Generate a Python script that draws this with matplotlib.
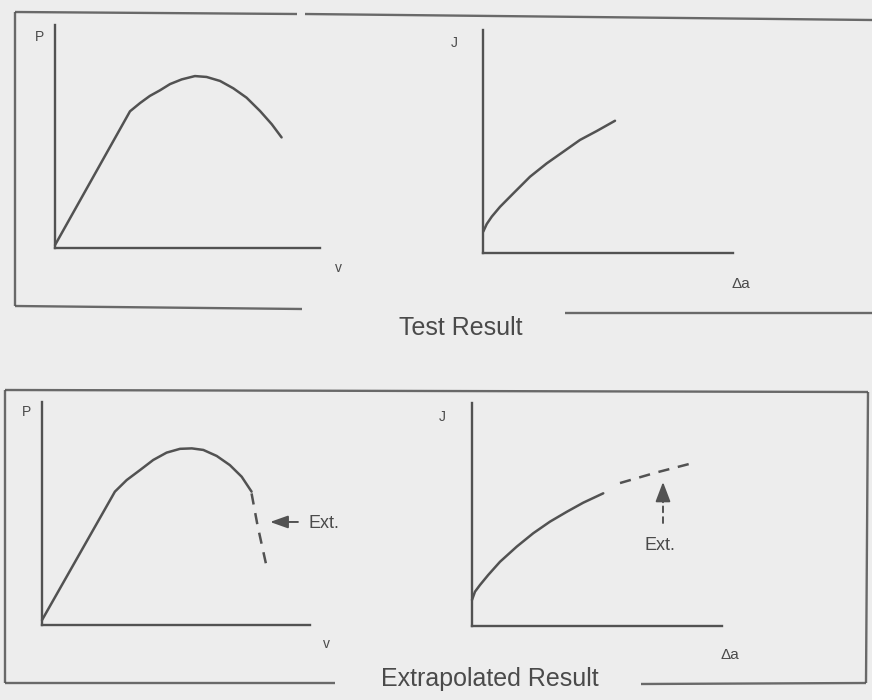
import matplotlib
matplotlib.use("Agg")
import matplotlib.pyplot as plt
from matplotlib.lines import Line2D

plt.rcParams["font.family"] = ["Liberation Sans", "DejaVu Sans"]

# ---- curve data (arbitrary units, axes span 0..10 on both scales) ----
# Test result: load vs displacement
pv_test_v = [0.0, 2.83, 3.21, 3.58, 3.96, 4.34, 4.78, 5.28, 5.72, 6.23, 6.73, 7.23, 7.74, 8.18, 8.55]
pv_test_p = [0.13, 6.13, 6.50, 6.82, 7.07, 7.35, 7.56, 7.71, 7.67, 7.49, 7.16, 6.74, 6.14, 5.55, 4.96]

# Test result: J vs crack growth
ja_test_da = [0.01, 0.15, 0.35, 0.68, 1.21, 1.88, 2.55, 3.21, 3.88, 4.55, 5.28]
ja_test_j = [0.96, 1.30, 1.63, 2.07, 2.67, 3.42, 4.02, 4.54, 5.07, 5.47, 5.93]

# Extrapolated result: load vs displacement (measured part + extension)
pv_ext_v = [0.0, 2.72, 3.16, 3.66, 4.15, 4.65, 5.15, 5.59, 6.02, 6.52, 7.01, 7.45, 7.82]
pv_ext_p = [0.22, 5.98, 6.50, 6.95, 7.40, 7.73, 7.90, 7.92, 7.85, 7.58, 7.17, 6.65, 5.98]
pv_extension_v = [7.82, 8.04, 8.38]
pv_extension_p = [5.90, 4.48, 2.62]

# Extrapolated result: J vs crack growth (measured part + extension)
ja_ext_da = [0.0, 0.12, 0.32, 0.65, 1.12, 1.79, 2.45, 3.12, 3.79, 4.45, 5.25]
ja_ext_j = [1.17, 1.54, 1.84, 2.29, 2.88, 3.56, 4.16, 4.68, 5.12, 5.53, 5.95]
ja_extension_da = [5.92, 7.36, 8.84]
ja_extension_j = [6.41, 6.88, 7.31]

panel_titles = ["Test Result", "Extrapolated Result"]
ext_label = "Ext."

# ---- styling ----
BG = "#ededed"
INK = "#525252"
W, H = 872, 700

fig = plt.figure(figsize=(W / 100, H / 100), dpi=100, facecolor=BG)

# full-figure canvas in pixel units for frames and captions
canvas = fig.add_axes([0, 0, 1, 1], zorder=0)
canvas.set_xlim(0, W)
canvas.set_ylim(H, 0)
canvas.axis("off")
canvas.set_facecolor(BG)


def seg(x0, y0, x1, y1, lw=1.7):
    canvas.add_line(Line2D([x0, x1], [y0, y1], color=INK, lw=lw,
                           solid_capstyle="butt", alpha=0.85))


# upper frame (open on the right, broken at the bottom for the caption)
seg(15, 12, 15, 306)
seg(15, 12, 297, 14)
seg(305, 14, 872, 20)
seg(15, 306, 302, 309)
seg(565, 313, 872, 313)

# lower frame
seg(5, 390, 868, 392)
seg(5, 390, 5, 683)
seg(868, 392, 866, 683)
seg(5, 683, 335, 683)
seg(641, 684, 866, 683)

canvas.text(461, 328, panel_titles[0], ha="center", va="center",
            fontsize=18, color="#4a4a4a")
canvas.text(490, 679, panel_titles[1], ha="center", va="center",
            fontsize=18, color="#4a4a4a")


def make_axes(ox, oy, xend, ytop):
    ax = fig.add_axes([ox / W, 1 - oy / H, (xend - ox) / W, (oy - ytop) / H], zorder=2)
    ax.set_xlim(0, 10)
    ax.set_ylim(0, 10)
    ax.patch.set_visible(False)
    for s in ("top", "right"):
        ax.spines[s].set_visible(False)
    for s in ("left", "bottom"):
        ax.spines[s].set_color(INK)
        ax.spines[s].set_linewidth(1.7)
    ax.set_xticks([])
    ax.set_yticks([])
    return ax


def label(ax, x, y, s, size=10):
    ax.text(x, y, s, ha="center", va="center", fontsize=size,
            color="#4a4a4a", clip_on=False)


curve_kw = dict(color=INK, lw=1.8, solid_capstyle="round", clip_on=False)
dash_kw = dict(color=INK, lw=1.8, linestyle=(0, (4.5, 3.5)), clip_on=False)

# --- Test result: P-v ---
ax1 = make_axes(55, 248, 320, 25)
ax1.plot(pv_test_v, pv_test_p, **curve_kw)
label(ax1, -0.57, 9.46, "P")
label(ax1, 10.68, -0.9, "v")

# --- Test result: J-Δa ---
ax2 = make_axes(483, 253, 733, 30)
ax2.plot(ja_test_da, ja_test_j, **curve_kw)
label(ax2, -1.16, 9.4, "J")
label(ax2, 10.3, -1.4, "Δa", size=11)

# --- Extrapolated result: P-v ---
ax3 = make_axes(42, 625, 310, 402)
ax3.plot(pv_ext_v, pv_ext_p, **curve_kw)
ax3.plot(pv_extension_v, pv_extension_p, **dash_kw)
ax3.annotate("", xy=(8.51, 4.62), xytext=(9.55, 4.62),
             arrowprops=dict(arrowstyle="-|>,head_length=0.9,head_width=0.32",
                             mutation_scale=12, color=INK, lw=1.4,
                             shrinkA=0, shrinkB=0))
ax3.text(9.93, 4.57, ext_label, ha="left", va="center", fontsize=13,
         color="#4a4a4a", clip_on=False)
label(ax3, -0.56, 9.55, "P")
label(ax3, 10.63, -0.85, "v")

# --- Extrapolated result: J-Δa ---
ax4 = make_axes(472, 626, 722, 403)
ax4.plot(ja_ext_da, ja_ext_j, **curve_kw)
ax4.plot(ja_extension_da, ja_extension_j, **dash_kw)
# solid arrow head with a broken tail below it
ax4.annotate("", xy=(7.64, 6.46), xytext=(7.64, 5.55),
             arrowprops=dict(arrowstyle="-|>,head_length=1.0,head_width=0.38",
                             mutation_scale=12, color=INK, lw=1.4,
                             shrinkA=0, shrinkB=0))
ax4.annotate("", xy=(7.64, 5.45), xytext=(7.64, 4.62),
             arrowprops=dict(arrowstyle="-", color=INK, lw=1.4,
                             linestyle=(0, (3, 2.5)), shrinkA=0, shrinkB=0))
ax4.text(7.52, 3.59, ext_label, ha="center", va="center", fontsize=13,
         color="#4a4a4a", clip_on=False)
label(ax4, -1.2, 9.37, "J")
label(ax4, 10.32, -1.3, "Δa", size=11)

fig.savefig("out.png", dpi=100, facecolor=BG)
